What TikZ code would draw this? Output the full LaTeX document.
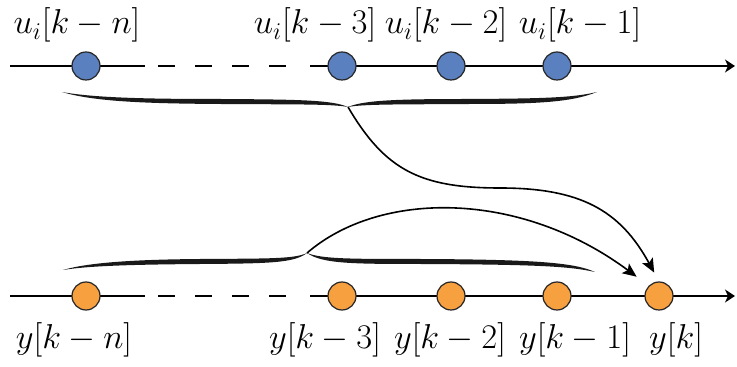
\documentclass[tikz,border=0pt]{standalone}
\usepackage{amsmath}
\usepackage{xcolor}
\usetikzlibrary{arrows.meta}
\definecolor{ublue}{RGB}{91,128,192}
\definecolor{yorange}{RGB}{247,160,64}
\tikzset{
  dot/.style={circle,draw=black!85,line width=0.6pt,minimum size=14pt,inner sep=0pt},
  udot/.style={dot,fill=ublue},
  ydot/.style={dot,fill=yorange},
  lbl/.style={anchor=base,inner sep=0pt,font=\fontsize{18}{21}\selectfont},
  ax/.style={line width=0.7pt},
  axr/.style={ax,-{Stealth[length=5pt,width=6.5pt,inset=1.5pt]}},
  brc/.style={fill=black!90,draw=none},
  fl/.style={-{Stealth[length=7pt,width=6pt,inset=1.5pt]},line width=0.8pt},
}
\begin{document}
\begin{tikzpicture}[x=0.5pt,y=-0.5pt]
\useasboundingbox (0,0) rectangle (737,367);
% input axis
\draw[ax] (10,66) -- (145,66);
\draw[ax,dash pattern=on 8.5pt off 10pt] (158,66) -- (290,66);
\draw[axr] (310,66) -- (735,66);
% output axis
\draw[ax] (10,296) -- (145,296);
\draw[ax,dash pattern=on 8.5pt off 10pt] (158,296) -- (290,296);
\draw[axr] (310,296) -- (735,296);
% samples
\node[udot] (un) at (86,66) {};
\node[udot] (u3) at (342,66) {};
\node[udot] (u2) at (451,66) {};
\node[udot] (u1) at (557,66) {};
\node[ydot] (yn) at (86,296) {};
\node[ydot] (y3) at (342,296) {};
\node[ydot] (y2) at (451,296) {};
\node[ydot] (y1) at (557,296) {};
\node[ydot] (yk) at (659,296) {};
% labels
\node[lbl] (lun) at (77,34) {$u_i[k-n]$};
\node[lbl] (lu3) at (315,34) {$u_i[k-3]$};
\node[lbl] (lu2) at (446,34) {$u_i[k-2]$};
\node[lbl] (lu1) at (580,34) {$u_i[k-1]$};
\node[lbl] (lyn) at (74,349) {$y[k-n]$};
\node[lbl] (ly3) at (325,349) {$y[k-3]$};
\node[lbl] (ly2) at (450,349) {$y[k-2]$};
\node[lbl] (ly1) at (575,349) {$y[k-1]$};
\node[lbl] (lyk) at (676,349) {$y[k]$};
% braces
\coordinate (utip) at (348,107);
\coordinate (ytip) at (307,253);
\fill[brc] (62,92) .. controls (95,98) and (150,99) .. (220,99)
  .. controls (300,99.5) and (332,100) .. (utip)
  .. controls (332,104) and (300,104.5) .. (220,104)
  .. controls (150,103.5) and (95,102) .. (62,92) -- cycle;
\fill[brc] (utip) .. controls (364,100) and (400,99) .. (470,99)
  .. controls (540,98.5) and (572,98) .. (597,92)
  .. controls (572,102) and (540,104) .. (470,104)
  .. controls (400,104.5) and (364,104) .. (utip) -- cycle;
\fill[brc] (63,270) .. controls (90,262) and (140,259.5) .. (200,259)
  .. controls (270,258.5) and (294,259) .. (ytip)
  .. controls (294,263) and (270,263.5) .. (200,264)
  .. controls (140,264.5) and (90,265.5) .. (63,270) -- cycle;
\fill[brc] (ytip) .. controls (322,259) and (350,259) .. (420,259)
  .. controls (540,259.5) and (575,263) .. (595,272)
  .. controls (570,266.5) and (540,264.5) .. (420,264)
  .. controls (350,264) and (322,263.5) .. (ytip) -- cycle;
% connectors
\draw[fl,shorten >=5pt] (utip) .. controls (385,170) and (420,188) .. (500,188)
  .. controls (580,188) and (620,210) .. (yk.north);
\draw[fl,shorten >=7.5pt] (ytip) .. controls (380,190) and (520,190) .. (yk.north west);
\end{tikzpicture}
\end{document}
